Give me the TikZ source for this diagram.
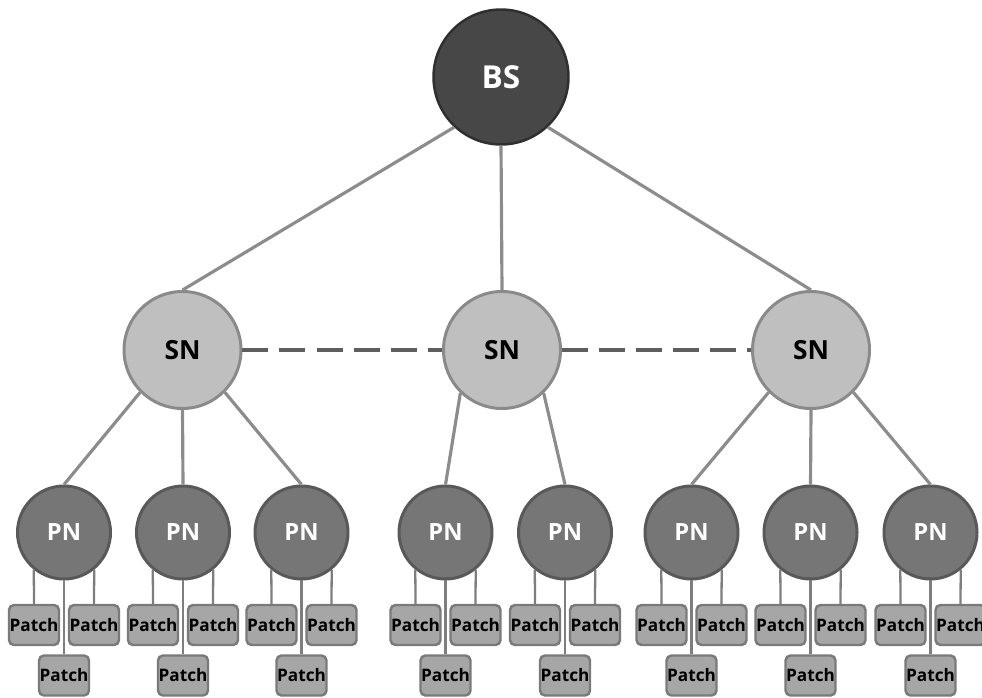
\documentclass[tikz,border=0pt]{standalone}
\usepackage{fontspec}
\setmainfont{Open Sans}
\usetikzlibrary{positioning}
\usepackage{xcolor}
\definecolor{bsfill}{HTML}{474747}
\definecolor{bsline}{HTML}{2F2F2F}
\definecolor{snfill}{HTML}{BFBFBF}
\definecolor{snline}{HTML}{8A8A8A}
\definecolor{pnfill}{HTML}{767676}
\definecolor{pnline}{HTML}{595959}
\definecolor{patchfill}{HTML}{A6A6A6}
\definecolor{patchline}{HTML}{7A7A7A}
\definecolor{linkgray}{HTML}{8C8C8C}
\definecolor{dashgray}{HTML}{5E5E5E}

\begin{document}
\begin{tikzpicture}[
  bsnode/.style={circle, draw=bsline, line width=1.4pt, fill=bsfill, minimum size=2.7cm, inner sep=0pt,
    text=white, font=\fontsize{18}{18}\selectfont\bfseries},
  snnode/.style={circle, draw=snline, line width=1.7pt, fill=snfill, minimum size=2.34cm, inner sep=0pt,
    text=black, font=\fontsize{15}{15}\selectfont\bfseries},
  pnnode/.style={circle, draw=pnline, line width=1.7pt, fill=pnfill, minimum size=1.86cm, inner sep=0pt,
    text=white, font=\fontsize{13.5}{13.5}\selectfont\bfseries},
  patch/.style={rectangle, rounded corners=0.1cm, draw=patchline, line width=1.4pt, fill=patchfill,
    minimum width=1.0cm, minimum height=0.8cm, inner sep=0pt, font=\fontsize{9.8}{9.8}\selectfont\bfseries},
  link/.style={draw=linkgray, line width=1.8pt},
  leaf/.style={draw=linkgray!90!black, line width=1.3pt},
  peer/.style={draw=dashgray, line width=2.3pt, dash pattern=on 0.52cm off 0.22cm}
]
  \useasboundingbox (0,0) rectangle (19.64,13.94);
  % base station and sub nodes
  \node[bsnode] (bs) at (10.02,12.40) {BS};
  \node[snnode] (sn1) at (3.65,6.94) {SN};
  \node[snnode] (sn2) at (10.04,6.94) {SN};
  \node[snnode] (sn3) at (16.22,6.94) {SN};
  % patch nodes with their three patches
  \foreach \p/\x in {pn1/1.28, pn2/3.66, pn3/6.03, pn4/8.91, pn5/11.30, pn6/13.83, pn7/16.21, pn8/18.61} {
    \node[pnnode] (\p) at (\x,3.29) {PN};
    \node[patch] (\p-a) at (\x-0.6,1.44) {Patch};
    \node[patch] (\p-b) at (\x+0.6,1.44) {Patch};
    \node[patch] (\p-c) at (\x,0.43) {Patch};
    \draw[leaf] (\p.231) -- (\p-a.north);
    \draw[leaf] (\p.309) -- (\p-b.north);
    \draw[leaf] (\p.south) -- (\p-c.north);
  }
  \draw[link] (bs.227) -- (sn1.north);
  \draw[link] (bs.south) -- (sn2.north);
  \draw[link] (bs.313) -- (sn3.north);
  \draw[link] (sn1.225) -- (pn1.north);
  \draw[link] (sn1.south) -- (pn2.north);
  \draw[link] (sn1.315) -- (pn3.north);
  \draw[link] (sn2.226) -- (pn4.north);
  \draw[link] (sn2.314) -- (pn5.north);
  \draw[link] (sn3.225) -- (pn6.north);
  \draw[link] (sn3.south) -- (pn7.north);
  \draw[link] (sn3.315) -- (pn8.north);
  \draw[peer] (sn1) -- (sn2);
  \draw[peer] (sn2) -- (sn3);
\end{tikzpicture}
\end{document}
